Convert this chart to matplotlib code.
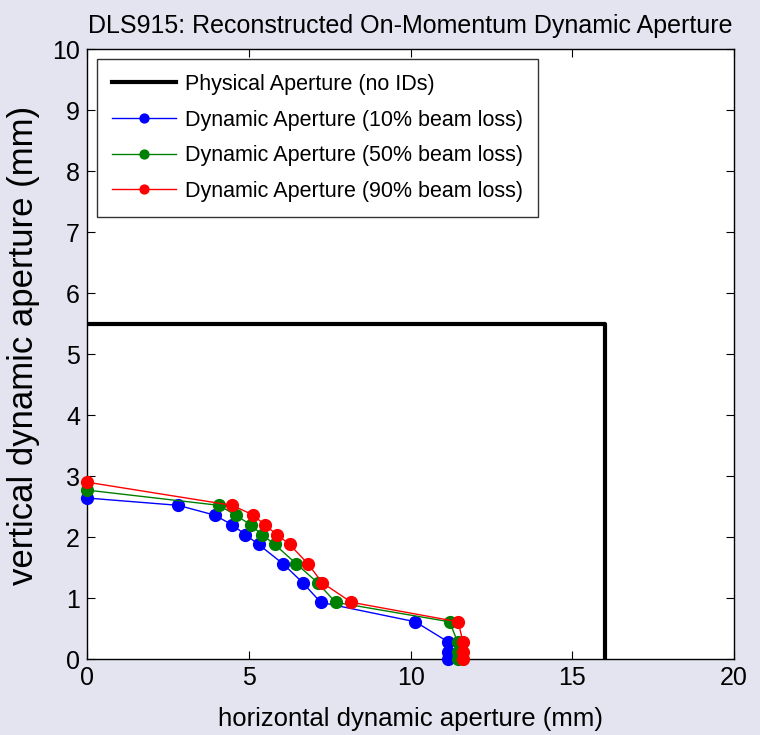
import matplotlib
matplotlib.use("Agg")
import matplotlib.pyplot as plt

# physical aperture (no IDs)
phys_x = [0, 16, 16]
phys_y = [5.5, 5.5, 0]

# dynamic aperture points (mm)
y_pts = [2.64, 2.52, 2.36, 2.20, 2.04, 1.88, 1.56, 1.25, 0.93, 0.61, 0.28, 0.12, 0.0]
x_10 = [0.0, 2.82, 3.94, 4.49, 4.89, 5.30, 6.06, 6.67, 7.22, 10.15, 11.16, 11.16, 11.16]
x_50 = [0.0, 4.08, 4.59, 5.06, 5.40, 5.80, 6.47, 7.13, 7.68, 11.21, 11.45, 11.45, 11.45]
x_90 = [0.0, 4.49, 5.14, 5.49, 5.87, 6.26, 6.83, 7.27, 8.17, 11.47, 11.62, 11.62, 11.62]
y_10 = y_pts
y_50 = [2.77] + y_pts[1:]
y_90 = [2.90] + y_pts[1:]

labels = ["Physical Aperture (no IDs)",
          "Dynamic Aperture (10% beam loss)",
          "Dynamic Aperture (50% beam loss)",
          "Dynamic Aperture (90% beam loss)"]

plt.rcParams["font.family"] = ["Liberation Sans", "DejaVu Sans"]

fig = plt.figure(figsize=(7.6, 7.35), dpi=100, facecolor="#e4e4f1")
ax = fig.add_axes([0.1145, 0.1034, 0.8515, 0.8296])

ax.plot(phys_x, phys_y, color="black", lw=3, label=labels[0])
for xs, ys, c, lab in [(x_10, y_10, "blue", labels[1]),
                       (x_50, y_50, "green", labels[2]),
                       (x_90, y_90, "red", labels[3])]:
    ax.plot(xs, ys, color=c, lw=1, marker="o", ms=8.5, label=lab, clip_on=False, zorder=3)

ax.set_xlim(0, 20)
ax.set_ylim(0, 10)
ax.set_xticks([0, 5, 10, 15, 20])
ax.set_yticks(range(11))
ax.tick_params(direction="in", top=True, right=True, labelsize=18, length=6, pad=5)
for s in ax.spines.values():
    s.set_linewidth(1)

ax.set_title("DLS915: Reconstructed On-Momentum Dynamic Aperture", fontsize=18, pad=12)
ax.set_xlabel("horizontal dynamic aperture (mm)", fontsize=18.5, labelpad=12)
ax.set_ylabel("vertical dynamic aperture (mm)", fontsize=25, labelpad=0)
ax.yaxis.set_label_coords(-0.072, 0.515)

leg = ax.legend(loc="upper left", fontsize=15.5, frameon=True, fancybox=False,
                edgecolor="black", handlelength=3.0, handletextpad=0.4,
                borderaxespad=0.45, borderpad=0.7, labelspacing=0.68,
                markerscale=0.75)
leg.get_frame().set_linewidth(1)

fig.savefig("out.png", dpi=100, facecolor=fig.get_facecolor())
